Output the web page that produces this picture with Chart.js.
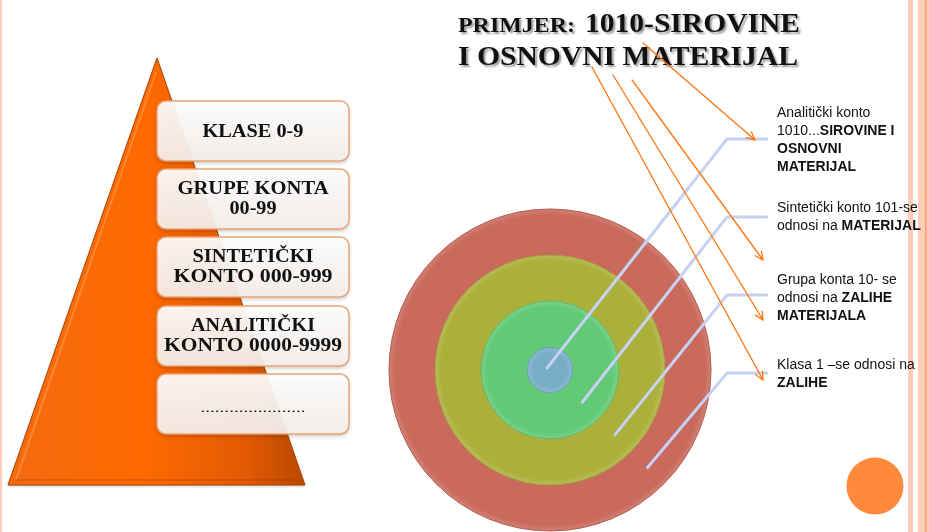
<!DOCTYPE html>
<html>
<head>
<meta charset="utf-8">
<script src="https://cdn.jsdelivr.net/npm/chart.js@4.4.1/dist/chart.umd.min.js"></script>
<style>
  html, body { margin: 0; padding: 0; background: #ffffff; }
  #wrap { width: 929px; height: 532px; position: relative; }
</style>
</head>
<body>
<div id="wrap"><canvas id="kontoChart" width="929" height="532"></canvas></div>
<script>
// Rings, outermost first (class -> group -> synthetic -> analytic account)
const ringLabels = ['Klasa 1', 'Grupa konta 10', 'Sintetički konto 101', 'Analitički konto 1010'];
const ringValues = [1, 1, 1, 1];

// Notes to the right of the rings, same order as ringLabels (**bold**)
const ringNotes = [
    ['Klasa 1 –se odnosi na', '**ZALIHE**'],
    ['Grupa konta 10- se', 'odnosi na **ZALIHE**', '**MATERIJALA**'],
    ['Sintetički konto 101-se', 'odnosi na **MATERIJAL**'],
    ['Analitički konto', '1010...**SIROVINE I**', '**OSNOVNI**', '**MATERIJAL**']
];

// Pyramid levels, top to bottom
const pyramidLevels = [
    ['KLASE 0-9'],
    ['GRUPE KONTA', '00-99'],
    ['SINTETIČKI', 'KONTO 000-999'],
    ['ANALITIČKI', 'KONTO 0000-9999'],
    ['......................']
];

const titleLine1 = ['PRIMJER:', '1010-SIROVINE'];
const titleLine2 = 'I OSNOVNI MATERIJAL';

// styling
const ringColors = ['#c96a5c', '#abb03a', '#62c977', '#78adc8'];
const ringEdges = ['#b35a4e', '#9ea532', '#58b86c', '#6a9cb8'];
const SERIF = '"Liberation Serif", "DejaVu Serif", serif';
const SANS = '"Liberation Sans", Arial, sans-serif';

// draw text stretched/compressed to an exact width
function fitText(ctx, text, x, y, width, align) {
    const m = ctx.measureText(text).width;
    const k = width / m;
    ctx.save();
    ctx.translate(x, y);
    ctx.scale(k, 1);
    ctx.textAlign = align || 'left';
    ctx.fillText(text, 0, 0);
    ctx.restore();
}

function arrowLine(ctx, x1, y1, x2, y2) {
    ctx.beginPath();
    ctx.moveTo(x1, y1);
    ctx.lineTo(x2, y2);
    const a = Math.atan2(y2 - y1, x2 - x1);
    const len = 9;
    ctx.moveTo(x2 - len * Math.cos(a - 0.45), y2 - len * Math.sin(a - 0.45));
    ctx.lineTo(x2, y2);
    ctx.lineTo(x2 - len * Math.cos(a + 0.45), y2 - len * Math.sin(a + 0.45));
    ctx.stroke();
}

function drawRichLine(ctx, line, x, y, size) {
    const parts = line.split('**');
    let cx = x;
    parts.forEach((p, i) => {
        if (!p) return;
        ctx.font = (i % 2 ? 'bold ' : '') + size + 'px ' + SANS;
        ctx.fillText(p, cx, y);
        cx += ctx.measureText(p).width;
    });
}

const slidePlugin = {
    id: 'slide',
    beforeDraw(chart) {
        const ctx = chart.ctx;
        ctx.save();
        ctx.fillStyle = '#ffffff';
        ctx.fillRect(0, 0, chart.width, chart.height);
        // page border stripes
        ctx.fillStyle = '#ffcdb9';
        ctx.fillRect(0, 0, 2, chart.height);
        ctx.fillRect(908, 0, 5, chart.height);
        ctx.fillRect(918, 0, 11, chart.height);
        ctx.fillStyle = '#ff9c6b';
        ctx.fillRect(925, 0, 1.5, chart.height);
        ctx.restore();
    },
    afterDatasetsDraw(chart) {
        const ctx = chart.ctx;
        ctx.save();
        // subtle bevel on the rings
        chart.data.datasets.forEach((ds, i) => {
            const arc = chart.getDatasetMeta(i).data[0];
            const inner = Math.max(arc.outerRadius - 6, 0);
            const rg = ctx.createRadialGradient(arc.x, arc.y, inner, arc.x, arc.y, arc.outerRadius);
            rg.addColorStop(0, 'rgba(255,255,255,0)');
            rg.addColorStop(1, 'rgba(255,255,255,0.16)');
            ctx.beginPath();
            ctx.arc(arc.x, arc.y, arc.outerRadius, 0, Math.PI * 2);
            ctx.fillStyle = rg;
            ctx.fill();
            ctx.lineWidth = 1;
            ctx.strokeStyle = ringEdges[i];
            ctx.stroke();
        });

        // leader lines from ring to its note
        const elbowY = [373, 295, 217, 139];
        const noteY = [365, 280, 208, 113];
        ctx.lineCap = 'round';
        ctx.lineJoin = 'round';
        chart.data.datasets.forEach((ds, i) => {
            const arc = chart.getDatasetMeta(i).data[0];
            const r = arc.innerRadius > 0 ? (arc.innerRadius + arc.outerRadius) / 2 : 4;
            const sx = arc.x + r * Math.cos(Math.PI / 4);
            const sy = arc.y + r * Math.sin(Math.PI / 4);
            ctx.beginPath();
            ctx.moveTo(i === 3 ? arc.x - 3 : sx, i === 3 ? arc.y - 2 : sy);
            ctx.lineTo(727, elbowY[i]);
            ctx.lineTo(767, elbowY[i]);
            ctx.lineWidth = 3;
            ctx.strokeStyle = '#c7d1f4';
            ctx.stroke();

            ctx.fillStyle = '#111111';
            ctx.textBaseline = 'middle';
            ctx.textAlign = 'left';
            ringNotes[i].forEach((line, j) => {
                drawRichLine(ctx, line, 777, noteY[i] + j * 18, 14);
            });
        });
        ctx.restore();
    },
    afterDraw(chart) {
        const ctx = chart.ctx;
        ctx.save();

        // pyramid
        const apex = [157, 58], bl = [8, 485], br = [305, 485];
        const g = ctx.createLinearGradient(8, 0, 305, 0);
        g.addColorStop(0, '#f56a10');
        g.addColorStop(0.45, '#ff6a00');
        g.addColorStop(0.8, '#e35a04');
        g.addColorStop(1, '#b94800');
        ctx.beginPath();
        ctx.moveTo(apex[0], apex[1]);
        ctx.lineTo(br[0], br[1]);
        ctx.lineTo(bl[0], bl[1]);
        ctx.closePath();
        ctx.shadowColor = 'rgba(0,0,0,0.3)';
        ctx.shadowBlur = 3;
        ctx.shadowOffsetY = 1;
        ctx.fillStyle = g;
        ctx.fill();
        ctx.shadowColor = 'transparent';
        ctx.lineWidth = 1;
        ctx.strokeStyle = '#a84500';
        ctx.stroke();
        // bevel highlight
        ctx.beginPath();
        ctx.moveTo(apex[0] - 1, apex[1] + 14);
        ctx.lineTo(bl[0] + 8, bl[1] - 5);
        ctx.lineWidth = 2;
        ctx.strokeStyle = 'rgba(255,205,160,0.3)';
        ctx.stroke();
        ctx.beginPath();
        ctx.moveTo(bl[0] + 8, bl[1] - 5);
        ctx.lineTo(br[0] - 8, br[1] - 5);
        ctx.lineWidth = 1.5;
        ctx.strokeStyle = 'rgba(150,55,0,0.35)';
        ctx.stroke();

        // level boxes
        const boxX = 157, boxW = 192, boxH = 60;
        const boxTops = [101, 169, 237, 306, 374];
        pyramidLevels.forEach((lines, i) => {
            const y = boxTops[i];
            const bg = ctx.createLinearGradient(0, y, 0, y + boxH);
            bg.addColorStop(0, 'rgba(255,255,255,0.93)');
            bg.addColorStop(1, 'rgba(246,240,236,0.93)');
            ctx.beginPath();
            ctx.roundRect(boxX, y, boxW, boxH, 9);
            ctx.shadowColor = 'rgba(0,0,0,0.25)';
            ctx.shadowBlur = 4;
            ctx.shadowOffsetY = 2;
            ctx.fillStyle = bg;
            ctx.fill();
            ctx.shadowColor = 'transparent';
            ctx.lineWidth = 1.5;
            ctx.strokeStyle = '#eba474';
            ctx.stroke();

            ctx.fillStyle = '#111111';
            ctx.textBaseline = 'middle';
            ctx.font = 'bold 18px ' + SERIF;
            const cx = boxX + boxW / 2;
            if (lines.length === 1) {
                const dots = lines[0].startsWith('.');
                if (dots) ctx.font = '13px ' + SERIF;
                fitText(ctx, lines[0], cx, y + boxH / 2 + (dots ? 5 : 1), dots ? 105 : 101, 'center');
            } else {
                const widths = {
                    'GRUPE KONTA': 151, '00-99': 47, 'SINTETIČKI': 121,
                    'KONTO 000-999': 159, 'ANALITIČKI': 124, 'KONTO 0000-9999': 178
                };
                lines.forEach((t, j) => {
                    fitText(ctx, t, cx, y + 20 + j * 20, widths[t] || ctx.measureText(t).width, 'center');
                });
            }
        });

        // title
        ctx.fillStyle = '#111111';
        ctx.textBaseline = 'alphabetic';
        ctx.shadowColor = 'rgba(0,0,0,0.4)';
        ctx.shadowBlur = 2;
        ctx.shadowOffsetX = 2;
        ctx.shadowOffsetY = 2;
        ctx.font = 'bold 21px ' + SERIF;
        fitText(ctx, titleLine1[0], 458, 32, 117);
        ctx.font = 'bold 28px ' + SERIF;
        fitText(ctx, titleLine1[1], 585, 32, 215);
        fitText(ctx, titleLine2, 458, 65, 340);
        ctx.shadowColor = 'transparent';
        ctx.shadowOffsetX = 0;
        ctx.shadowOffsetY = 0;
        ctx.shadowBlur = 0;

        // arrows from title to the notes (outermost ring first)
        const arrows = [
            [592, 67, 763, 380],
            [613, 75, 763, 320],
            [632, 80, 763, 260],
            [643, 43, 755, 140]
        ];
        ctx.strokeStyle = '#ff7410';
        ctx.lineWidth = 1.3;
        ctx.lineCap = 'round';
        arrows.forEach(a => arrowLine(ctx, a[0], a[1], a[2], a[3]));

        // decorative circle
        ctx.beginPath();
        ctx.arc(875, 486, 28.5, 0, Math.PI * 2);
        ctx.fillStyle = '#ff8a3b';
        ctx.fill();

        ctx.restore();
    }
};

const ctx = document.getElementById('kontoChart').getContext('2d');
const kontoChart = new Chart(ctx, {
    type: 'doughnut',
    data: {
        labels: ['konto'],
        datasets: ringLabels.map((label, i) => ({
            label: label,
            data: [ringValues[i]],
            backgroundColor: ringColors[i],
            borderWidth: 0,
            hoverOffset: 0,
            weight: i === ringLabels.length - 1 ? 0.49 : 1
        }))
    },
    options: {
        responsive: false,
        animation: false,
        events: [],
        cutout: 0,
        layout: {
            padding: { left: 388, right: 217, top: 209, bottom: 1 }
        },
        plugins: {
            legend: { display: false },
            tooltip: { enabled: false }
        }
    },
    plugins: [slidePlugin]
});
</script>
</body>
</html>
